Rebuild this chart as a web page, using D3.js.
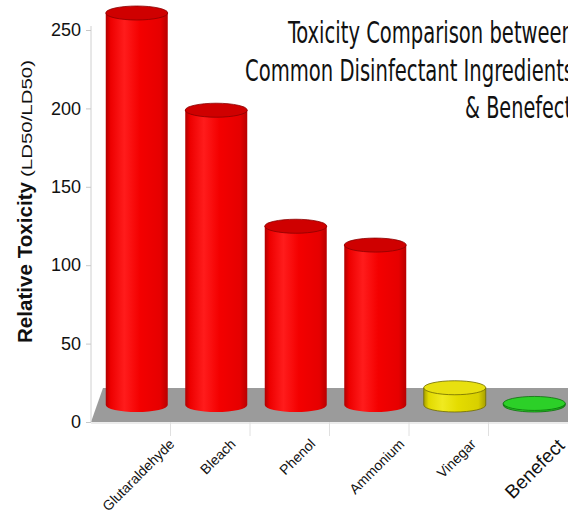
<!DOCTYPE html>
<html><head><meta charset="utf-8">
<script src="https://cdn.jsdelivr.net/npm/d3@7"></script>
<style>body{margin:0;background:#fff;overflow:hidden}</style>
</head><body><svg id="c" width="568" height="515"></svg>
<script>
const categories = ["Glutaraldehyde","Bleach","Phenol","Ammonium","Vinegar","Benefect"];
const values = [250, 188, 114, 102, 11, 1];
const colorKeys = ["red","red","red","red","yellow","green"];
const yTicks = [0, 50, 100, 150, 200, 250];
const titleLines = ["Toxicity Comparison between","Common Disinfectant Ingredients","& Benefect"];
const yTitle = "Relative Toxicity";
const ySubtitle = "(LD50/LD50)";

const svg = d3.select("#c");
const x = d3.scaleBand().domain(categories).range([91, 568]);
const y = d3.scaleLinear().domain([0, 250]).range([422, 30]);
const depth = {dx: 12, dy: -34};

const palettes = {
  red:    {body:["#b00000","#ee0000","#ff1c1c","#f40000","#e60000","#b80000"], top:"#cf0000", stroke:"#8a0000"},
  yellow: {body:["#a8a000","#e2da00","#f0ea20","#e4dc00","#d8d000","#a8a000"], top:"#e8e010", stroke:"#6f6a00"},
  green:  {body:["#10900f","#22c21f","#33d630","#25c822","#1fbc1c","#109010"], top:"#2cd028", stroke:"#0d700c"}
};
const defs = svg.append("defs");
Object.entries(palettes).forEach(([k,p])=>{
  const g = defs.append("linearGradient").attr("id","g-"+k).attr("x1","0").attr("x2","1").attr("y1","0").attr("y2","0");
  [0,0.08,0.3,0.55,0.88,1].forEach((o,i)=>g.append("stop").attr("offset",o).attr("stop-color",p.body[i]));
});

// floor
const x0 = x.range()[0], x1 = x.range()[1], y0 = y(0);
svg.append("path")
  .attr("d", `M${x0},${y0} L${x0+depth.dx},${y0+depth.dy} L${x1},${y0+depth.dy} L${x1},${y0} Z`)
  .attr("fill", "#9b9b9b");

// category axis line and separators
svg.append("line").attr("x1",x0).attr("x2",x1).attr("y1",y0+1).attr("y2",y0+1).attr("stroke","#d8d8d8");
categories.forEach((c,i)=>{
  if(i===0) return;
  svg.append("line").attr("x1",x(c)).attr("x2",x(c)).attr("y1",y0).attr("y2",y0+14).attr("stroke","#e0e0e0");
});

// y axis
const yAxis = d3.axisLeft(y).tickValues(yTicks).tickSize(5).tickPadding(5).tickFormat(d3.format("d"));
const ga = svg.append("g").attr("transform",`translate(${x0},0)`).call(yAxis);
ga.select(".domain").attr("stroke","#d0d0d0").attr("d",`M0,${y(250)-4}V${y0}`);
ga.selectAll(".tick line").attr("stroke","#c8c8c8");
ga.selectAll(".tick text").attr("fill","#111").style("font-family","Arial, 'Liberation Sans', sans-serif").style("font-size","18px");

// cylinders
const rx = 31, ry = 7;
categories.forEach((c,i)=>{
  const p = palettes[colorKeys[i]];
  const cx = x(c) + x.bandwidth()/2 + depth.dx/2;
  const yb = y(0) + depth.dy/2;
  const yt = y(values[i]) + depth.dy/2;
  svg.append("path")
    .attr("d", `M${cx-rx},${yt} L${cx-rx},${yb} A${rx},${ry} 0 0 0 ${cx+rx},${yb} L${cx+rx},${yt} Z`)
    .attr("fill", `url(#g-${colorKeys[i]})`)
    .attr("stroke", colorKeys[i]==="red" ? "none" : p.stroke).attr("stroke-width",0.8);
  svg.append("ellipse").attr("cx",cx).attr("cy",yt).attr("rx",rx).attr("ry",ry)
    .attr("fill", p.top).attr("stroke", p.stroke).attr("stroke-width",0.8);
});

// category labels
categories.forEach((c,i)=>{
  const cx = x(c) + x.bandwidth()/2 + 11;
  const fs = c==="Benefect" ? 19 : 14;
  const t = svg.append("text").text(c)
    .style("font-family","Arial, 'Liberation Sans', sans-serif").style("font-size",fs+"px").attr("fill","#111")
    .attr("text-anchor","middle");
  const L = t.node().getComputedTextLength();
  const h = L/2*Math.SQRT1_2;
  t.attr("transform",`translate(${cx},${440+h+fs*0.35}) rotate(-45)`);
});

// y title
svg.append("text").text(yTitle)
  .attr("transform","translate(32,343) rotate(-90)")
  .attr("textLength",161).attr("lengthAdjust","spacingAndGlyphs")
  .style("font-family","Arial, 'Liberation Sans', sans-serif").style("font-weight","bold").style("font-size","20px").attr("fill","#111");
svg.append("text").text(ySubtitle)
  .attr("transform","translate(32,177) rotate(-90)")
  .attr("textLength",117).attr("lengthAdjust","spacingAndGlyphs")
  .style("font-family","Arial, 'Liberation Sans', sans-serif").style("font-size","14px").attr("fill","#111");

// title
const tl = [{x:288,y:43,len:286},{x:245,y:81,len:329},{x:465,y:118,len:107}];
titleLines.forEach((s,i)=>{
  svg.append("text").text(s).attr("x",tl[i].x).attr("y",tl[i].y)
    .attr("textLength",tl[i].len).attr("lengthAdjust","spacingAndGlyphs")
    .style("font-family","'Liberation Sans Narrow','DejaVu Sans Condensed','Liberation Sans',sans-serif")
    .style("font-size","30px").attr("fill","#111");
});
</script></body></html>
